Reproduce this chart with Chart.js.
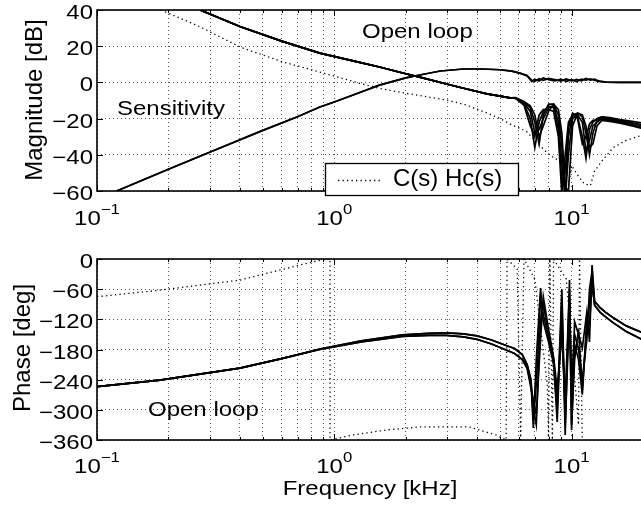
<!DOCTYPE html>
<html>
<head>
<meta charset="utf-8">
<script src="https://cdn.jsdelivr.net/npm/chart.js"></script>
<style>
  html, body { margin: 0; padding: 0; background: #fff; overflow: hidden; width: 641px; height: 506px; }
  canvas { position: absolute; left: 0; }
  #mag { top: 0; }
  #phase { top: 250px; }
</style>
</head>
<body>
<canvas id="mag" width="660" height="250"></canvas>
<canvas id="phase" width="660" height="256"></canvas>
<script>
// ---- data (frequency in kHz) ----
const xGrid = [0.1, 0.2, 0.3, 0.4, 0.5, 0.6, 0.7, 0.8, 0.9,
               1, 2, 3, 4, 5, 6, 7, 8, 9, 10, 20];
const xLabels = [[0.1, '\u22121'], [1, '0'], [10, '1']];
const magTicks = [-60, -40, -20, 0, 20, 40];
const phaseTicks = [-360, -300, -240, -180, -120, -60, 0];

// sensitivity magnitude [dB]
const sensF  = [0.121, 0.2, 0.3, 0.5, 0.7, 0.869, 1.0, 1.2, 1.55, 2.0, 2.29, 2.8, 3.5, 4.2, 5.0, 5.6, 6.1];
const sensDb = [-60, -48, -38.5, -26.5, -19, -13.6, -10.8, -7, -1.5, 2.5, 4.1, 6.3, 7.4, 7.4, 7.0, 6.2, 5.0];
const sensTailF = [6.5, 6.8, 7.0, 7.3, 7.6, 8.0, 8.5, 9.0, 9.5, 10, 10.5, 11, 11.5, 12, 12.5, 13, 14, 16, 20];
const sensTail1 = [3.5, 0.5, 1.8, 0.8, 2.4, 1.5, 0.8, 1.8, 0.6, 1.5, 0.5, 1.8, 1.2, 2.0, 1.2, 0.5, 0.1, 0, 0];
const sensTail2 = [3.8, 1.2, 0.6, 2.0, 1.2, 2.2, 1.5, 0.7, 1.9, 0.8, 1.6, 0.9, 2.2, 1.3, 1.8, 0.8, 0.2, 0, 0];

// open loop magnitude [dB]
const olF  = [0.272, 0.4, 0.6, 0.869, 1.2, 1.55, 2.0, 2.29, 3.0, 3.47, 4.4, 5.0, 5.5];
const olDb = [40, 30.9, 22.8, 16.2, 11.9, 8.5, 4.8, 2.9, -1.0, -3.1, -6.3, -7.6, -8.5];
const olTailF = [5.8, 6.3, 6.7, 7.0, 7.3, 7.6, 8.0, 8.4, 8.8, 9.1, 9.4, 9.7, 10.1, 10.6, 11.1, 11.5, 11.9, 12.3, 12.8, 13.4, 14.5, 16, 18, 20];
const olTail1 = [-8.5, -11, -14, -22, -34, -18, -12, -12, -18, -35, -62, -30, -18, -17, -19, -28, -40, -28, -21, -19, -19.5, -20.5, -21.5, -22.5];
const olTail2 = [-8.5, -11.5, -16, -28, -26, -20, -14, -13, -22, -45, -65, -40, -20, -18, -22, -38, -32, -24, -22, -20, -20.5, -21.5, -22.5, -23.5];
const olTail3 = [-8.7, -12, -20, -36, -22, -16, -13, -14, -26, -55, -50, -25, -17, -19, -30, -42, -26, -22, -20, -19, -20, -21, -22.5, -24];
const olTail4 = [-8.8, -12.5, -24, -30, -18, -15, -15, -16, -30, -62, -40, -22, -18, -20, -34, -30, -23, -21, -21, -20, -21, -22, -23.5, -25];
const olTail5 = [-8.4, -10.5, -13, -18, -30, -24, -16, -12, -15, -28, -58, -60, -24, -17, -18, -24, -36, -34, -24, -21, -21.5, -22.5, -24, -25.5];

// C(s) Hc(s) magnitude [dB]
const chcF  = [0.186, 0.272, 0.4, 0.6, 0.869, 1.28, 1.55, 2.0, 2.97, 3.6, 4.4, 5.0, 5.6, 6.45, 7.0, 7.5, 7.9, 8.5, 9.2, 9.6, 10.0, 10.7, 11.3, 12.0, 12.5, 13.5, 15, 17, 20];
const chcDb = [40, 30.7, 19.6, 11.5, 5.7, -0.5, -3.3, -6, -9.7, -12.5, -16.9, -20, -23.5, -27, -32, -36, -39, -42, -44, -62, -46, -52, -56, -57, -49, -43, -36, -32, -29];

// open loop phase [deg]
const phF   = [0.1, 0.184, 0.4, 0.6, 0.869, 1.3, 1.94, 2.5, 2.97, 3.5, 4.0, 4.6, 5.3, 5.75, 6.2];
const phA   = [-254, -241, -217, -198, -179, -163, -151, -148, -147, -149, -153, -161, -172, -178, -190];
const phB   = [-254, -241, -217, -198, -180, -165, -154, -152, -152, -155, -160, -169, -181, -188, -200];
const phTailF = [6.5, 6.75, 6.9, 7.1, 7.4, 7.6, 8.0, 8.4, 8.7, 9.1, 9.4, 9.8, 10.0, 10.3, 10.7, 11.1, 11.6, 11.9, 12.2, 12.5, 13.2, 14, 15, 17, 20];
const phTail1 = [-211, -245, -336, -200, -58, -125, -165, -205, -324, -78, -350, -42, -296, -125, -150, -177, -105, -165, -12, -84, -97, -107, -117, -133, -147];
const phTail2 = [-216, -252, -300, -330, -120, -90, -150, -200, -280, -120, -300, -80, -330, -200, -140, -260, -130, -90, -40, -92, -106, -116, -127, -144, -161];
const phTail3 = [-210, -240, -320, -250, -80, -110, -160, -210, -300, -60, -330, -100, -250, -150, -180, -240, -160, -60, -25, -84, -97, -107, -117, -133, -147];
const phTail4 = [-218, -258, -280, -310, -160, -75, -140, -195, -260, -150, -280, -60, -340, -170, -200, -270, -120, -130, -50, -92, -106, -116, -127, -144, -161];

// C(s) Hc(s) phase [deg] (wraps at 0 / -360)
const chcPhF   = [0.1, 0.184, 0.4, 0.716, 0.84, 0.96, 0.96, 1.2, 1.66, 2.3, 3.7, 4.8, 5.3, 5.35, 5.9, 6.1, 6.3, 7.0, 7.9, 8.0, 8.1, 8.3, 8.4, 9.5, 10.7, 10.8, 11.1];
const chcPhDeg = [-75, -62, -42, -12, -4, 0, -360, -350, -340, -334, -334, -350, -360, 0, -20, -360, 0, -40, -250, -360, 0, -360, 0, -40, -330, 0, -360];

// ---- helpers ----
const FONT = '"Liberation Sans", Arial, Helvetica, sans-serif';
const pts = (fs, vs) => fs.map((f, i) => ({ x: f, y: vs[i] }));
const solid = d => ({ data: d, borderColor: '#000', borderWidth: 1.7, pointRadius: 0, tension: 0, fill: false });
const dotted = d => ({ data: d, borderColor: '#000', borderWidth: 1.3, borderDash: [1.3, 3.2], pointRadius: 0, tension: 0, fill: false });

function txt(ctx, s, x, y, size, align, sx) {
  ctx.save();
  ctx.font = size + 'px ' + FONT;
  ctx.translate(x, y);
  ctx.scale(sx, 1);
  ctx.textAlign = align;
  ctx.textBaseline = 'alphabetic';
  ctx.fillStyle = '#000';
  ctx.fillText(s, 0, 0);
  ctx.restore();
}

function vtxt(ctx, s, x, y, size) {
  ctx.save();
  ctx.font = size + 'px ' + FONT;
  ctx.translate(x, y);
  ctx.rotate(-Math.PI / 2);
  ctx.textAlign = 'center';
  ctx.textBaseline = 'alphabetic';
  ctx.fillStyle = '#000';
  ctx.fillText(s, 0, 0);
  ctx.restore();
}

const matlab = {
  id: 'matlab',
  afterDraw(chart, args, o) {
    const { ctx, chartArea: a, scales: { x, y } } = chart;
    ctx.save();
    ctx.setLineDash([]);
    ctx.strokeStyle = '#000';
    ctx.lineWidth = 1;
    ctx.beginPath();
    x.ticks.forEach(t => {
      const px = Math.round(x.getPixelForValue(t.value)) + 0.5;
      const lg = Math.log10(t.value);
      const len = Math.abs(lg - Math.round(lg)) < 1e-9 ? 6 : 3;
      ctx.moveTo(px, a.bottom); ctx.lineTo(px, a.bottom - len);
      ctx.moveTo(px, a.top); ctx.lineTo(px, a.top + len);
    });
    y.ticks.forEach(t => {
      const py = Math.round(y.getPixelForValue(t.value)) + 0.5;
      ctx.moveTo(a.left, py); ctx.lineTo(a.left + 6, py);
    });
    ctx.stroke();
    ctx.lineWidth = 1.6;
    ctx.strokeRect(a.left, a.top, a.right - a.left, a.bottom - a.top);

    // y tick labels
    y.ticks.forEach(t => {
      const py = y.getPixelForValue(t.value);
      const s = t.value < 0 ? '\u2212' + Math.abs(t.value) : String(t.value);
      txt(ctx, s, 93, py + 9, 20, 'right', 1.2);
    });
    // x tick labels 10^n
    xLabels.forEach(([v, e]) => {
      const px = x.getPixelForValue(v);
      ctx.font = '20px ' + FONT;
      const w10 = ctx.measureText('10').width * 1.2;
      ctx.font = '14px ' + FONT;
      const we = ctx.measureText(e).width * 1.2;
      const x0 = px - (w10 + we) / 2;
      txt(ctx, '10', x0, o.tickBase, 20, 'left', 1.2);
      txt(ctx, e, x0 + w10, o.tickBase - 11, 14, 'left', 1.2);
    });
    vtxt(ctx, o.ylabel[0], o.ylabel[1], o.ylabel[2], 24);
    o.texts.forEach(t => txt(ctx, t[0], t[1], t[2], 20, 'left', 1.2));
    if (o.xlabel) txt(ctx, o.xlabel[0], o.xlabel[1], o.xlabel[2], 20, 'center', 1.2);
    if (o.legend) {
      const L = o.legend;
      ctx.fillStyle = '#fff';
      ctx.fillRect(L.x, L.y, L.w, L.h);
      ctx.lineWidth = 1.3;
      ctx.strokeStyle = '#000';
      ctx.strokeRect(L.x + 0.5, L.y + 0.5, L.w, L.h);
      ctx.lineWidth = 1.3;
      ctx.setLineDash([1.3, 3.2]);
      ctx.strokeStyle = '#000';
      ctx.beginPath();
      ctx.moveTo(L.x + 13, L.y + 17.5); ctx.lineTo(L.x + 55, L.y + 17.5);
      ctx.stroke();
      ctx.setLineDash([]);
      txt(ctx, L.text, L.x + 68, L.y + 23, 24, 'left', 1.0);
    }
    ctx.restore();
  }
};

function axes(yTicks, yMin, yMax, pad) {
  const grid = { color: '#555', lineWidth: 1, drawTicks: false };
  const border = { display: false, dash: [1, 3] };
  return {
    responsive: false,
    animation: false,
    devicePixelRatio: 1,
    layout: { padding: pad },
    plugins: { legend: { display: false }, tooltip: { enabled: false } },
    scales: {
      x: {
        type: 'logarithmic', min: 0.1, max: 20,
        ticks: { display: false }, grid: grid, border: border,
        afterBuildTicks: s => { s.ticks = xGrid.map(v => ({ value: v })); },
        afterFit: s => { s.height = 0; }
      },
      y: {
        type: 'linear', min: yMin, max: yMax,
        ticks: { display: false }, grid: grid, border: border,
        afterBuildTicks: s => { s.ticks = yTicks.map(v => ({ value: v })); },
        afterFit: s => { s.width = 0; }
      }
    }
  };
}

// ---- magnitude chart ----
const magOpts = axes(magTicks, -60, 40, { left: 97, right: 17, top: 10, bottom: 59 });
magOpts.plugins.matlab = {
  tickBase: 225,
  ylabel: ['Magnitude [dB]', 42, 100],
  texts: [['Open loop', 362, 37.5], ['Sensitivity', 117, 114.5]],
  legend: { x: 325, y: 163, w: 193, h: 32, text: 'C(s) Hc(s)' }
};
new Chart(document.getElementById('mag'), {
  type: 'line',
  data: {
    datasets: [
      solid(pts(sensF.concat(sensTailF), sensDb.concat(sensTail1))),
      solid(pts(sensF.concat(sensTailF), sensDb.concat(sensTail2))),
      solid(pts(olF.concat(olTailF), olDb.concat(olTail1))),
      solid(pts(olF.concat(olTailF), olDb.concat(olTail2))),
      solid(pts(olF.concat(olTailF), olDb.concat(olTail3))),
      solid(pts(olF.concat(olTailF), olDb.concat(olTail4))),
      solid(pts(olF.concat(olTailF), olDb.concat(olTail5))),
      dotted(pts(chcF, chcDb))
    ]
  },
  options: magOpts,
  plugins: [matlab]
});

// ---- phase chart ----
const phOpts = axes(phaseTicks, -360, 0, { left: 97, right: 17, top: 9, bottom: 66 });
phOpts.plugins.matlab = {
  tickBase: 223,
  ylabel: ['Phase [deg]', 30, 98],
  texts: [['Open loop', 148, 166]],
  xlabel: ['Frequency [kHz]', 370, 245]
};
new Chart(document.getElementById('phase'), {
  type: 'line',
  data: {
    datasets: [
      solid(pts(phF.concat(phTailF), phA.concat(phTail1))),
      solid(pts(phF.concat(phTailF), phB.concat(phTail2))),
      solid(pts(phF.concat(phTailF), phA.concat(phTail3))),
      solid(pts(phF.concat(phTailF), phB.concat(phTail4))),
      dotted(pts(chcPhF, chcPhDeg))
    ]
  },
  options: phOpts,
  plugins: [matlab]
});
</script>
</body>
</html>
